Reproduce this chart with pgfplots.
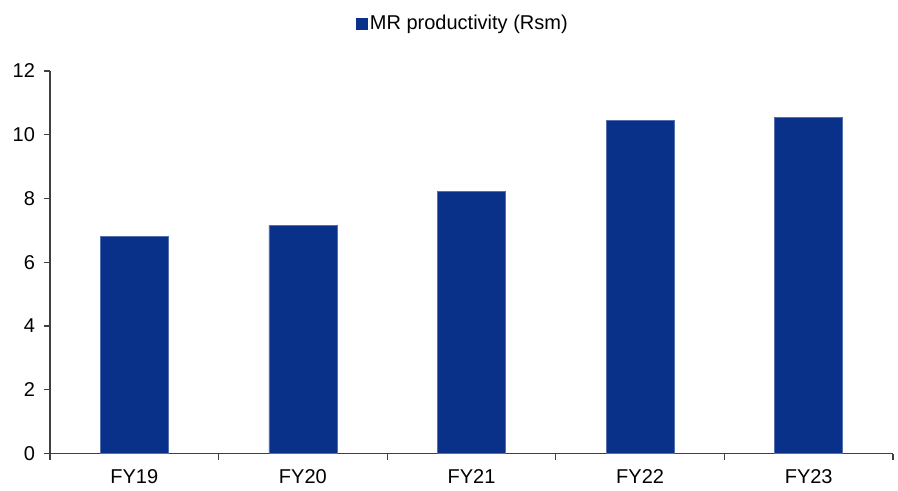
\documentclass[border=0pt]{standalone}
\usepackage{pgfplots}
\pgfplotsset{compat=1.18}
\usepackage{fontspec}
\setmainfont{Liberation Sans}
\definecolor{barblue}{RGB}{10,49,138}
\definecolor{axisgray}{RGB}{64,64,64}

\begin{document}
\begin{tikzpicture}
\fontsize{10}{12}\selectfont
\begin{axis}[
  name=ax,
  scale only axis,
  width=421.5pt, height=191.3pt,
  xmin=-0.5, xmax=4.5,
  ymin=0, ymax=12,
  ytick={0,2,...,12},
  xtick={0,1,2,3,4},
  xticklabels={FY19,FY20,FY21,FY22,FY23},
  minor xtick={-0.5,0.5,...,4.5},
  axis lines*=left,
  axis line style={axisgray, line width=0.6pt},
  every tick/.style={axisgray, line width=0.6pt},
  major tick length=3pt,
  minor tick length=3pt,
  major x tick style={draw=none},
  tick align=outside,
  tick label style={font=\fontsize{10}{12}\selectfont, text=black},
  yticklabel style={xshift=-1pt},
  xticklabel style={yshift=-1.5pt},
  /pgf/number format/assume math mode=true,
  legend style={draw=none, fill=none, at={(0.491,1)}, anchor=center,
    yshift=23.5pt, font=\fontsize{10}{12}\selectfont,
    inner sep=0pt, /tikz/every even column/.append style={column sep=0pt}},
  legend image code/.code={\fill[barblue] (0pt,-2.6pt) rectangle (5.2pt,2.6pt);},
  legend cell align=left,
  clip=false,
]
\addplot[ybar, bar width=34pt, fill=barblue, draw=barblue!70!white, line width=0.3pt]
  coordinates {(0,6.82) (1,7.16) (2,8.23) (3,10.45) (4,10.54)};
\addlegendentry{\hspace{-0.6pt}MR productivity (Rsm)}
\end{axis}
\path[use as bounding box] ([shift={(-25pt,-17.35pt)}]ax.south west)
  rectangle ([shift={(2.5pt,35.5pt)}]ax.north east);
\end{tikzpicture}
\end{document}
